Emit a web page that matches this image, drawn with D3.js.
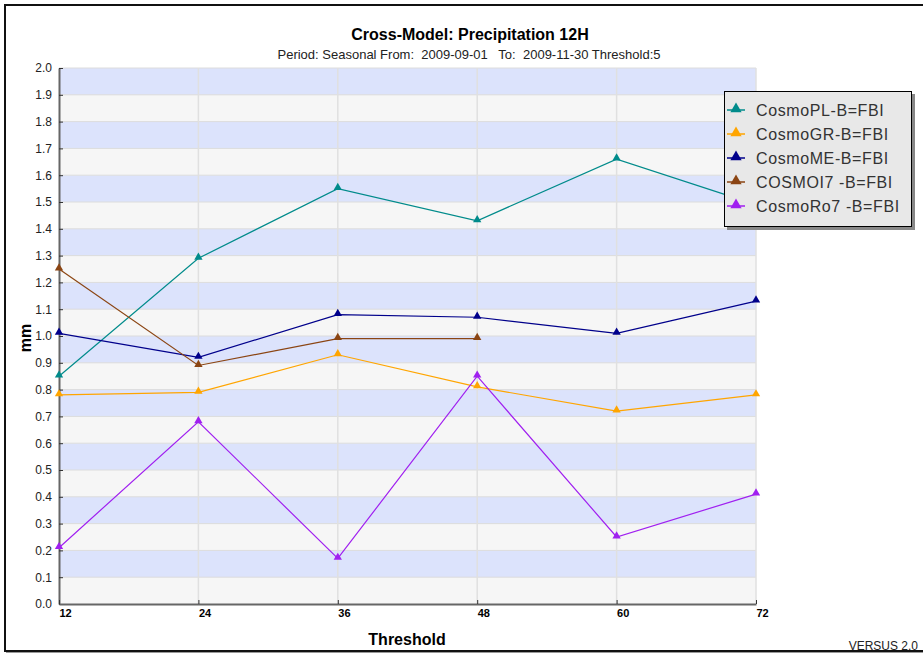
<!DOCTYPE html>
<html>
<head>
<meta charset="utf-8">
<script src="https://cdn.jsdelivr.net/npm/d3@7"></script>
<style>
  body { margin: 0; background: #fff; }
  text { font-family: "Liberation Sans", Arial, sans-serif; }
</style>
</head>
<body>
<div id="chart-area"></div>
<script>
// chart values
const thresholds = [12, 24, 36, 48, 60, 72]
const seriesNames = ["CosmoPL-B=FBI", "CosmoGR-B=FBI", "CosmoME-B=FBI", "COSMOI7 -B=FBI", "CosmoRo7 -B=FBI"]
const seriesColors = ["#008b8b", "#ffa500", "#00008b", "#8b4513", "#a020f0"]
const cosmoPL = [0.85, 1.29, 1.55, 1.43, 1.66, 1.49]
const cosmoGR = [0.78, 0.79, 0.93, 0.81, 0.72, 0.78]
const cosmoME = [1.01, 0.92, 1.08, 1.07, 1.01, 1.13]
const cosmoI7 = [1.25, 0.89, 0.99, 0.99, null, null]
const cosmoRo7 = [0.21, 0.68, 0.17, 0.85, 0.25, 0.41]
const yTicks = d3.range(0, 21).map(function(i) { return i / 10 })

const W = 923, H = 654
const MARGIN = { LEFT: 59, RIGHT: 167, TOP: 68, BOTTOM: 50 }
const WIDTH = W - MARGIN.LEFT - MARGIN.RIGHT
const HEIGHT = H - MARGIN.TOP - MARGIN.BOTTOM

const svg = d3.select("#chart-area").append("svg")
  .attr("width", W)
  .attr("height", H)

// outer frame (right side runs off the picture)
svg.append("rect")
  .attr("x", 5).attr("y", 5)
  .attr("width", W + 10).attr("height", 646)
  .attr("fill", "none")
  .attr("stroke", "#111")
  .attr("stroke-width", 2)
svg.append("line")
  .attr("x1", 6).attr("x2", W).attr("y1", 652.5).attr("y2", 652.5)
  .attr("stroke", "#999").attr("stroke-width", 1)

// titles
svg.append("text")
  .attr("x", 470).attr("y", 40)
  .attr("text-anchor", "middle")
  .attr("font-size", "16px")
  .attr("font-weight", "bold")
  .text("Cross-Model: Precipitation 12H")
svg.append("text")
  .attr("x", 469).attr("y", 59)
  .attr("text-anchor", "middle")
  .attr("font-size", "13px")
  .attr("fill", "#222")
  .style("white-space", "pre")
  .text("Period: Seasonal From:  2009-09-01   To:  2009-11-30 Threshold:5")

const g = svg.append("g")
  .attr("transform", "translate(" + MARGIN.LEFT + ", " + MARGIN.TOP + ")")

const x = d3.scaleLinear()
  .domain([12, 72])
  .range([0, WIDTH])

const y = d3.scaleLinear()
  .domain([0, 2])
  .range([HEIGHT, 0])

// alternating bands
g.selectAll("rect.band")
  .data(d3.range(20))
  .enter().append("rect")
    .attr("class", "band")
    .attr("x", 0)
    .attr("y", function(i) { return y((i + 1) / 10) })
    .attr("width", WIDTH)
    .attr("height", function(i) { return y(i / 10) - y((i + 1) / 10) })
    .attr("fill", function(i) { return i % 2 === 1 ? "#dce3fc" : "#f6f6f6" })

// grid lines
g.selectAll("line.hgrid")
  .data(yTicks.slice(1))
  .enter().append("line")
    .attr("x1", 0).attr("x2", WIDTH)
    .attr("y1", function(d) { return y(d) })
    .attr("y2", function(d) { return y(d) })
    .attr("stroke", "#dcdcdc")
g.selectAll("line.vgrid")
  .data(thresholds.slice(1))
  .enter().append("line")
    .attr("x1", function(d) { return x(d) })
    .attr("x2", function(d) { return x(d) })
    .attr("y1", 0).attr("y2", HEIGHT)
    .attr("stroke", "#e0e0e0")
    .attr("stroke-width", 1.5)

// axes
const yAxisCall = d3.axisLeft(y)
  .tickValues(yTicks)
  .tickFormat(d3.format(".1f"))
  .tickSizeInner(-4)
  .tickSizeOuter(0)
  .tickPadding(7)
const yAxis = g.append("g").attr("class", "y axis").call(yAxisCall)
yAxis.select(".domain").attr("stroke", "#666").attr("stroke-width", 2)
yAxis.selectAll(".tick line").attr("stroke", "#333")
yAxis.selectAll("text").attr("font-size", "12px").attr("fill", "#222")
  .attr("font-family", "Liberation Sans, Arial, sans-serif")

const xAxisCall = d3.axisBottom(x)
  .tickValues(thresholds)
  .tickSizeInner(-4)
  .tickSizeOuter(0)
  .tickPadding(5)
const xAxis = g.append("g")
  .attr("class", "x axis")
  .attr("transform", "translate(0, " + HEIGHT + ")")
  .call(xAxisCall)
xAxis.select(".domain").attr("stroke", "#666").attr("stroke-width", 2)
xAxis.selectAll(".tick line").attr("stroke", "#333")
xAxis.selectAll("text")
  .attr("text-anchor", "start")
  .attr("font-size", "11px")
  .attr("font-weight", "bold")
  .attr("fill", "#000")
  .attr("font-family", "Liberation Sans, Arial, sans-serif")

// axis labels
svg.append("text")
  .attr("x", 407).attr("y", 645)
  .attr("text-anchor", "middle")
  .attr("font-size", "16px")
  .attr("font-weight", "bold")
  .text("Threshold")
svg.append("text")
  .attr("transform", "translate(31, 338) rotate(-90)")
  .attr("text-anchor", "middle")
  .attr("font-size", "16px")
  .attr("font-weight", "bold")
  .text("mm")
svg.append("text")
  .attr("x", 918).attr("y", 650)
  .attr("text-anchor", "end")
  .attr("font-size", "12px")
  .attr("fill", "#222")
  .text("VERSUS 2.0")

// series
const allSeries = [cosmoPL, cosmoGR, cosmoME, cosmoI7, cosmoRo7]
const triangle = d3.symbol().type(d3.symbolTriangle).size(30)

const line = d3.line()
  .defined(function(d) { return d != null })
  .x(function(d, i) { return x(thresholds[i]) })
  .y(function(d) { return y(d) })

allSeries.forEach(function(vals, s) {
  g.append("path")
    .attr("d", line(vals))
    .attr("fill", "none")
    .attr("stroke", seriesColors[s])
    .attr("stroke-width", 1.2)
  g.selectAll("path.pt" + s)
    .data(vals.map(function(v, i) { return { v: v, t: thresholds[i] } })
      .filter(function(d) { return d.v != null }))
    .enter().append("path")
      .attr("d", triangle)
      .attr("transform", function(d) { return "translate(" + x(d.t) + ", " + (y(d.v) - 1) + ")" })
      .attr("fill", seriesColors[s])
})

// legend
const legend = svg.append("g").attr("transform", "translate(724, 91)")
legend.append("rect")
  .attr("x", 3).attr("y", 3)
  .attr("width", 188).attr("height", 136)
  .attr("fill", "#888")
legend.append("rect")
  .attr("x", 0.5).attr("y", 0.5)
  .attr("width", 187).attr("height", 135)
  .attr("fill", "#e8e8e8")
  .attr("stroke", "#000")
seriesNames.forEach(function(name, s) {
  const ly = 19 + s * 24
  legend.append("line")
    .attr("x1", 3).attr("x2", 21)
    .attr("y1", ly).attr("y2", ly)
    .attr("stroke", seriesColors[s])
    .attr("stroke-width", 1.5)
  legend.append("path")
    .attr("d", d3.symbol().type(d3.symbolTriangle).size(55))
    .attr("transform", "translate(12, " + (ly - 1) + ")")
    .attr("fill", seriesColors[s])
  legend.append("text")
    .attr("x", 32).attr("y", ly + 6)
    .attr("font-size", "16px")
    .attr("letter-spacing", "0.6px")
    .attr("fill", "#333")
    .text(name)
})
</script>
</body>
</html>
